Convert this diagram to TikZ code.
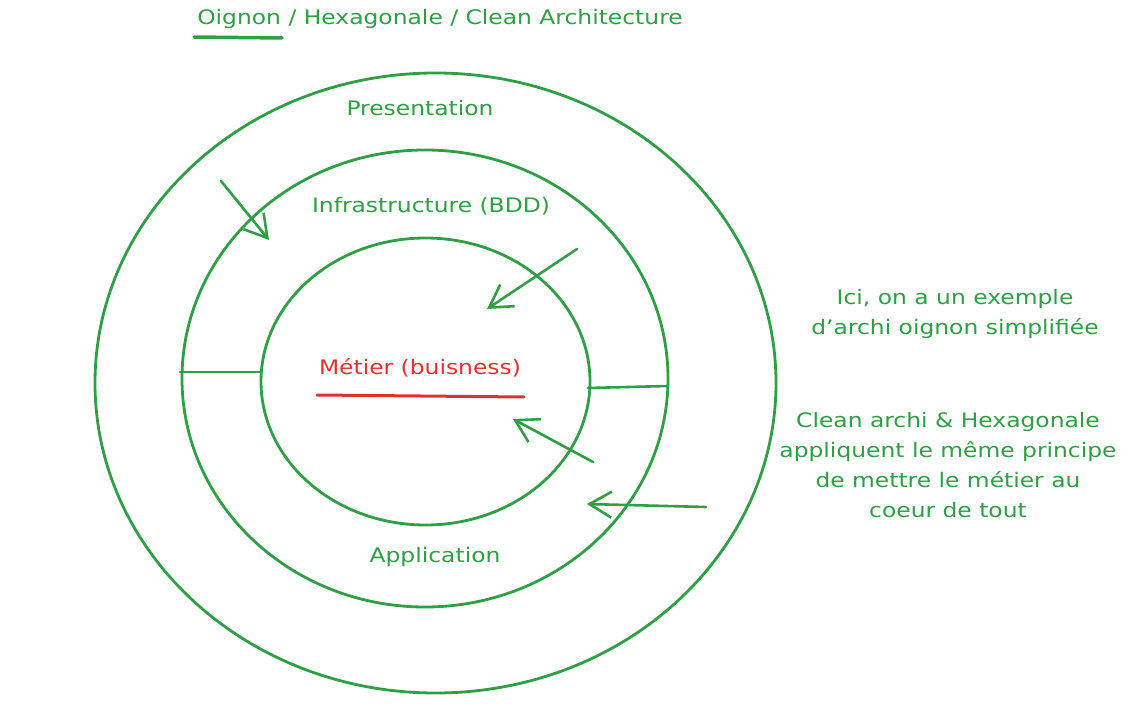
\documentclass[tikz,border=0pt]{standalone}
\usepackage{fontspec}
\setmainfont{DejaVu Sans}[FakeStretch=1.17]
\usetikzlibrary{shapes.geometric,arrows.meta}
\definecolor{exgreen}{HTML}{2F9E44}
\definecolor{exred}{HTML}{E03131}
\tikzset{
  ring/.style={draw=exgreen, line width=2.8pt, ellipse, inner sep=0pt},
  lbl/.style={text=exgreen, font=\fontsize{20}{30}\selectfont, align=center, inner sep=0pt},
  arr/.style={draw=exgreen, line width=2.6pt, line cap=round, -{Straight Barb[length=22pt,width=26pt,line width=2.6pt]}},
  sep/.style={draw=exgreen, line width=2.6pt, line cap=round},
}
\begin{document}
\begin{tikzpicture}[x=1pt,y=-1pt]
\useasboundingbox (0,0) rectangle (1133,706);
\node[ring, minimum width=681pt, minimum height=620pt] (outer) at (435.5,383) {};
\node[ring, minimum width=486pt, minimum height=457pt] (middle) at (425,378.5) {};
\node[ring, minimum width=329pt, minimum height=287pt] (inner) at (425.5,381.5) {};

\coordinate (l1) at (180,372);
\coordinate (l2) at (261,372);
\coordinate (r1) at (588,388);
\coordinate (r2) at (668,386);
\draw[sep] (l1) -- (l2);
\draw[sep] (r1) -- (r2);

\coordinate (a1s) at (221,181); \coordinate (a1e) at (269,240);
\coordinate (a2s) at (577,249); \coordinate (a2e) at (487,309);
\coordinate (a3s) at (593,462); \coordinate (a3e) at (513,419);
\coordinate (a4s) at (706,507); \coordinate (a4e) at (587,504);
\draw[arr] (a1s) -- (a1e);
\draw[arr] (a2s) -- (a2e);
\draw[arr] (a3s) -- (a3e);
\draw[arr] (a4s) -- (a4e);

\node[lbl] (title) at (440,19) {Oignon / Hexagonale / Clean Architecture};
\coordinate (u1) at (194,37); \coordinate (u2) at (282,38);
\draw[draw=exgreen, line width=3.5pt, line cap=round] (u1) -- (u2);

\node[lbl] (pres) at (420,108) {Presentation};
\node[lbl] (infra) at (431,206) {Infrastructure (BDD)};
\node[lbl, text=exred] (metier) at (420,368) {Métier (buisness)};
\coordinate (m1) at (317,395); \coordinate (m2) at (524,397);
\draw[draw=exred, line width=3pt, line cap=round] (m1) -- (m2);
\node[lbl] (app) at (435,557) {Application};

\node[lbl] (note1) at (955,314) {Ici, on a un exemple\\d'archi oignon simplifiée};
\node[lbl] (note2) at (948,465) {Clean archi \& Hexagonale\\appliquent le même principe\\de mettre le métier au\\coeur de tout};
\end{tikzpicture}
\end{document}
